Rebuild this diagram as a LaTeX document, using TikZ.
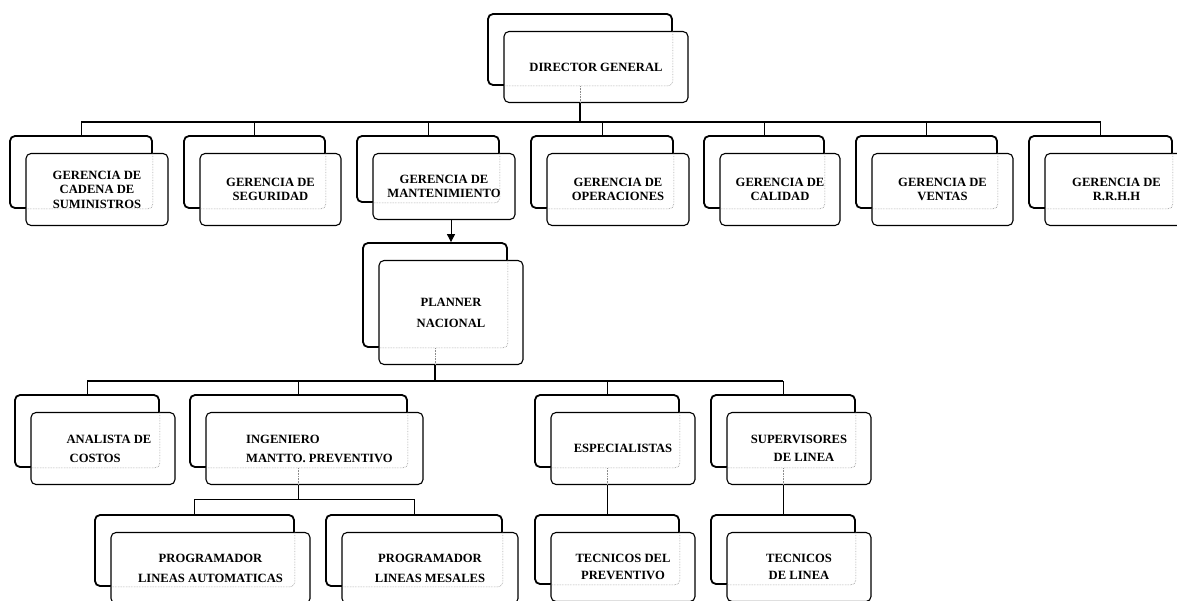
\documentclass[tikz,border=0pt]{standalone}
\usepackage{fontspec}
\setmainfont{Liberation Serif}
\usetikzlibrary{arrows.meta,calc}
\tikzset{
  backbox/.style={draw, line width=1.8pt, rounded corners=5pt, inner sep=0pt},
  frontbox/.style={draw, fill=white, line width=1.1pt, rounded corners=5pt, inner sep=0pt, align=center,
    font=\bfseries\fontsize{12.6}{14.5}\selectfont},
  hid/.style={densely dotted, line width=0.6pt, draw=black!45, rounded corners=5pt},
  conn/.style={line width=0.9pt},
  trunk/.style={line width=1.4pt},
  ls/.style={font=\bfseries\fontsize{12.6}{#1}\selectfont}
}
% #1 name, #2 x1, #3 y1, #4 x2, #5 y2, #6 front options, #7 text
\newcommand\orgbox[7]{%
  \node[backbox, minimum width={(#4-#2)*1pt}, minimum height={(#5-#3)*1pt}] (B#1) at ({(#2+#4)/2},{(#3+#5)/2}) {};
  \node[frontbox, minimum width={(#4-#2)*1pt}, minimum height={(#5-#3)*1pt}, #6] (#1) at ({(#2+#4)/2+16},{(#3+#5)/2+17.5}) {#7};
  \draw[hid] (B#1.east |- #1.north) -- (B#1.south east) -- (#1.west |- B#1.south);
}
\begin{document}
\begin{tikzpicture}[x=1pt,y=-1pt]
\useasboundingbox (0,0) rectangle (1177,600);
\clip (0,0) rectangle (1177,600);
\coordinate (bus1) at (0,122);
\coordinate (bus2) at (0,381);
\coordinate (bus3) at (0,499);
\coordinate (ax) at (451,0);

% level 0
\orgbox{dg}{488}{14}{672}{85}{}{DIRECTOR GENERAL}
% level 1
\orgbox{g1}{10}{136}{152}{208}{}{GERENCIA  DE\\CADENA DE\\SUMINISTROS}
\orgbox{g2}{184}{136}{325}{208}{}{GERENCIA  DE\\SEGURIDAD}
\orgbox{g3}{357}{136}{499}{202}{}{GERENCIA  DE\\MANTENIMIENTO}
\orgbox{g4}{531}{136}{673}{208}{}{GERENCIA  DE\\OPERACIONES}
\orgbox{g5}{704}{136}{824}{208}{}{GERENCIA  DE\\CALIDAD}
\orgbox{g6}{856}{136}{997}{208}{}{GERENCIA  DE\\VENTAS}
\orgbox{g7}{1029}{136}{1172}{208}{}{GERENCIA  DE\\R.R.H.H}
% planner
\orgbox{pl}{363}{243}{507}{347}{ls=21}{PLANNER\\NACIONAL}
% level 3
\orgbox{an}{15}{395}{159}{467}{ls=19, align=left}{\hspace*{12pt}ANALISTA  DE\\\hspace*{12pt} COSTOS}
\orgbox{in}{190}{395}{407}{467}{ls=19, align=left}{\hspace*{10pt}INGENIERO\\\hspace*{10pt}MANTTO. PREVENTIVO}
\orgbox{es}{535}{395}{679}{467}{}{ESPECIALISTAS}
\orgbox{su}{711}{395}{855}{467}{ls=18}{SUPERVISORES\\\hspace*{10pt}DE LINEA}
% level 4
\orgbox{pa}{95}{515}{294}{586}{ls=20}{PROGRAMADOR\\LINEAS  AUTOMATICAS}
\orgbox{pm}{326}{515}{502}{586}{ls=20}{PROGRAMADOR\\LINEAS  MESALES}
\orgbox{tp}{535}{515}{679}{584}{ls=17}{TECNICOS DEL\\PREVENTIVO}
\orgbox{tl}{711}{515}{855}{584}{ls=17}{TECNICOS\\DE LINEA}

% connectors level 0 -> 1
\draw[hid] (Bdg.south) -- (Bdg.south |- dg.south);
\draw[trunk] (Bdg.south |- dg.south) -- (Bdg.south |- bus1);
\draw[trunk] (Bg1.north |- bus1) -- (Bg7.north |- bus1);
\foreach \n in {g1,g2,g3,g4,g5,g6,g7}
  \draw[conn] (B\n.north) -- (B\n.north |- bus1);
% mantenimiento -> planner
\draw[conn, -{Triangle[length=8pt,width=8pt]}] (g3.south -| ax) -- (Bpl.north -| ax);
% planner -> level 3
\draw[hid] (Bpl.south) -- (Bpl.south |- pl.south);
\draw[trunk] (Bpl.south |- pl.south) -- (Bpl.south |- bus2);
\draw[trunk] (Ban.north |- bus2) -- (Bsu.north |- bus2);
\foreach \n in {an,in,es,su}
  \draw[conn] (B\n.north) -- (B\n.north |- bus2);
% ingeniero -> programadores
\draw[hid] (Bin.south) -- (Bin.south |- in.south);
\draw[trunk] (Bin.south |- in.south) -- (Bin.south |- bus3);
\draw[conn] (Bpa.north |- bus3) -- (Bpm.north |- bus3);
\foreach \n in {pa,pm}
  \draw[conn] (B\n.north) -- (B\n.north |- bus3);
% especialistas -> tecnicos del preventivo
\draw[hid] (Bes.south) -- (Bes.south |- es.south);
\draw[conn] (Bes.south |- es.south) -- (Btp.north);
% supervisores -> tecnicos de linea
\draw[hid] (Bsu.south) -- (Bsu.south |- su.south);
\draw[conn] (Bsu.south |- su.south) -- (Btl.north);
\end{tikzpicture}
\end{document}
